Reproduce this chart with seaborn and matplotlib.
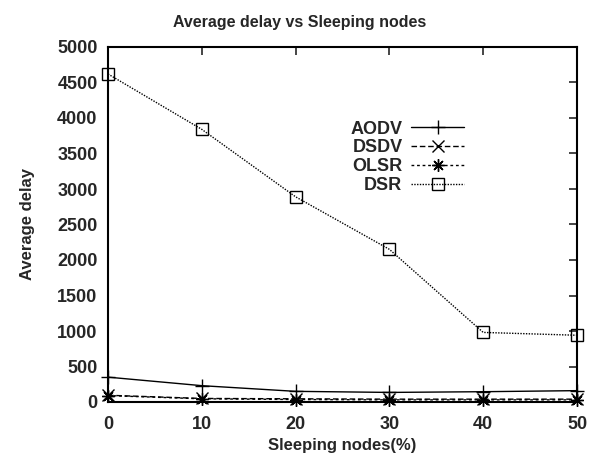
import matplotlib
matplotlib.use("Agg")
import matplotlib.pyplot as plt
import seaborn as sns
import pandas as pd

x_vals = [0, 10, 20, 30, 40, 50]
aodv = [350, 230, 150, 135, 145, 160]
dsdv = [95, 50, 45, 40, 40, 40]
olsr = [90, 45, 35, 30, 30, 30]
dsr = [4620, 3840, 2890, 2150, 980, 940]
x_ticks = [0, 10, 20, 30, 40, 50]
y_ticks = [0, 500, 1000, 1500, 2000, 2500, 3000, 3500, 4000, 4500, 5000]

sns.set_style("white")
plt.rcParams['font.family'] = ['Liberation Sans', 'DejaVu Sans']
plt.rcParams['font.weight'] = 'bold'

df = pd.concat([
    pd.DataFrame({"x": x_vals, "y": aodv, "series": "AODV"}),
    pd.DataFrame({"x": x_vals, "y": dsdv, "series": "DSDV"}),
    pd.DataFrame({"x": x_vals, "y": olsr, "series": "OLSR"}),
    pd.DataFrame({"x": x_vals, "y": dsr, "series": "DSR"}),
])

fig = plt.figure(figsize=(5.90, 4.62), dpi=100)
ax = fig.add_axes([108/590, 60/462, (577-108)/590, (402-47)/462])

styles = {
    "AODV": dict(ls="-", marker="+", ms=10),
    "DSDV": dict(ls=(0, (4, 2)), marker="x", ms=8),
    "OLSR": dict(ls=(0, (2, 2)), marker=(8, 2, 0), ms=9),
    "DSR": dict(ls=(0, (1, 1)), marker="s", ms=9),
}
for name in ["AODV", "DSDV", "OLSR", "DSR"]:
    sub = df[df["series"] == name]
    st = styles[name]
    sns.lineplot(data=sub, x="x", y="y", ax=ax, color="black", lw=1.0,
                 linestyle=st["ls"], marker=st["marker"], markersize=st["ms"],
                 markerfacecolor="none", markeredgecolor="black",
                 markeredgewidth=1.0, label=name, clip_on=False, zorder=3)

ax.set_xlim(0, 50)
ax.set_ylim(0, 5000)
ax.set_xticks(x_ticks)
ax.set_yticks(y_ticks)
ax.tick_params(direction="in", length=6, width=1.2, top=True, right=True,
               labelsize=13)
ax.tick_params(axis="x", pad=10)
ax.tick_params(axis="y", pad=7.5)
for lab in ax.get_xticklabels() + ax.get_yticklabels():
    lab.set_fontweight("bold")
for s in ax.spines.values():
    s.set_linewidth(1.5)
    s.set_color("black")

fig.suptitle("Average delay vs Sleeping nodes", x=0.508, y=0.968,
             fontsize=11.5, fontweight="bold", va="top")
ax.set_xlabel("Sleeping nodes(%)", fontsize=12, fontweight="bold", labelpad=4)
ax.set_ylabel("Average delay", fontsize=12, fontweight="bold", labelpad=16)

leg = ax.legend(loc="upper right", bbox_to_anchor=(0.778, 0.818), frameon=False,
                markerfirst=False, fontsize=13, handlelength=2.9,
                labelspacing=0.1, handletextpad=0.5, borderpad=0)
for t in leg.get_texts():
    t.set_fontweight("bold")

fig.savefig("out.png", dpi=100)
